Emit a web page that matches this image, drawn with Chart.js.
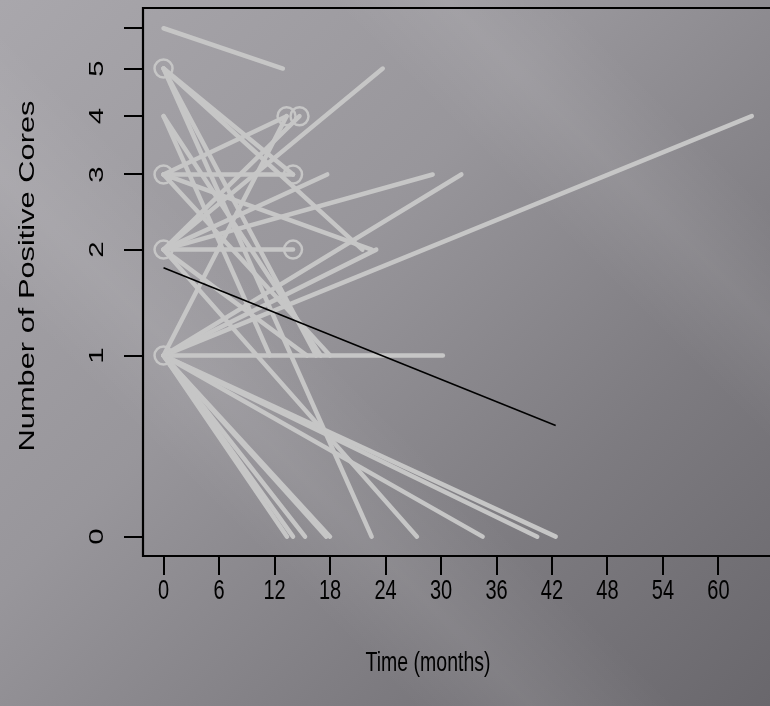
<!DOCTYPE html>
<html>
<head>
<meta charset="utf-8">
<script src="https://cdn.jsdelivr.net/npm/chart.js@4.4.1/dist/chart.umd.min.js"></script>
<style>
    html, body { margin: 0; padding: 0; width: 770px; height: 706px; overflow: hidden; }
    body {
        background:
            linear-gradient(45deg, rgba(255,255,255,0) 28%, rgba(255,255,255,0.08) 36%, rgba(255,255,255,0) 46%,
                                   rgba(255,255,255,0) 70%, rgba(255,255,255,0.07) 78%, rgba(255,255,255,0) 86%),
            linear-gradient(135deg, #a9a7ac 0%, #98969b 40%, #7d7b80 72%, #69676c 100%);
    }
    #wrap { position: relative; width: 770px; height: 706px; }
</style>
</head>
<body>
<div id="wrap"><canvas id="coresChart" width="770" height="706"></canvas></div>
<script>
// Ejes
const xTicks = [0, 6, 12, 18, 24, 30, 36, 42, 48, 54, 60];
const yTickCounts = [0, 1, 2, 3, 4, 5, 6];
const yTickLabels = ['0', '1', '2', '3', '4', '5', ''];

// Un paciente por posición: (mes inicial, cores) -> (mes final, cores)
const startMonths = [0, 0, 0, 0, 0, 0, 0, 0, 0, 0, 0, 0, 0, 0, 0, 0, 0, 0, 0, 0, 0, 0, 0, 0, 0, 0, 0, 0, 0, 0, 0];
const startCores  = [6, 3, 2, 3, 2, 2, 2, 2, 1, 1, 1, 1, 5, 4, 5, 2, 1, 1, 1, 1, 1, 1, 1, 1, 5, 5, 4, 3, 2, 1, 3];
const endMonths   = [12.9, 13.3, 14.7, 14.0, 14.0, 23.7, 17.7, 29.1, 32.2, 63.6, 30.2, 23.0, 21.5, 17.0, 22.5,
                     27.4, 34.5, 40.4, 42.4, 13.35, 14.0, 15.3, 17.6, 18.0, 14.0, 16.5, 11.5, 18.0, 15.5, 13.3, 22.5];
const endCores    = [5, 4, 4, 3, 2, 5, 3, 3, 3, 4, 1, 2, 2, 1, 0,
                     0, 0, 0, 0, 0, 0, 0, 0, 0, 3, 1, 1, 1, 1, 4, 2];

// Círculos marcados
const circleMonths = [0, 0, 0, 0, 13.3, 14.7, 14.0, 14.0];
const circleCores  = [5, 3, 2, 1, 4, 4, 3, 2];

// Tendencia ajustada
const fitMonths = [0, 42.4];
const fitCores  = [1.80, 0.53];

const tr = v => Math.log(v + 1);   // escala log(y + 1)
const STRETCH = 1.4;               // el gráfico original está estirado en vertical
const FONT = '"Liberation Sans", Arial, sans-serif';
const lineGray = '#c6c6c6';

function drawText(ctx, text, x, y, size, rotated) {
    ctx.save();
    ctx.translate(x, y);
    ctx.scale(1, STRETCH);
    if (rotated) ctx.rotate(-Math.PI / 2);
    ctx.font = `${size}px ${FONT}`;
    ctx.fillStyle = '#000';
    ctx.textAlign = 'center';
    ctx.textBaseline = 'middle';
    ctx.fillText(text, 0, 0);
    ctx.restore();
}

// Marco, marcas y textos al estilo de R
const rAxesPlugin = {
    id: 'rAxes',
    afterDatasetsDraw(chart) {
        const ctx = chart.ctx;
        const a = chart.chartArea;
        const xs = chart.scales.x;
        const ys = chart.scales.y;
        ctx.save();
        ctx.strokeStyle = '#000';
        ctx.lineWidth = 2.2;
        ctx.beginPath();
        ctx.moveTo(a.right + 2, a.top);
        ctx.lineTo(a.left, a.top);
        ctx.lineTo(a.left, a.bottom);
        ctx.lineTo(a.right + 2, a.bottom);
        ctx.stroke();

        ctx.lineWidth = 2;
        ctx.beginPath();
        xTicks.forEach(t => {
            const px = Math.round(xs.getPixelForValue(t));
            ctx.moveTo(px, a.bottom);
            ctx.lineTo(px, a.bottom + 19);
        });
        yTickCounts.forEach(c => {
            const py = Math.round(ys.getPixelForValue(tr(c)));
            ctx.moveTo(a.left, py);
            ctx.lineTo(a.left - 19, py);
        });
        ctx.stroke();
        ctx.restore();

        xTicks.forEach(t => drawText(ctx, String(t), xs.getPixelForValue(t), 591, 20, false));
        yTickCounts.forEach((c, i) => {
            if (yTickLabels[i]) drawText(ctx, yTickLabels[i], 97, ys.getPixelForValue(tr(c)), 21, true);
        });
        drawText(ctx, 'Time (months)', 428, 663, 19.5, false);
        drawText(ctx, 'Number of Positive Cores', 28, 276, 22, true);
    }
};

const datasets = [];

datasets.push({
    data: fitMonths.map((m, i) => ({ x: m, y: tr(fitCores[i]) })),
    showLine: true,
    borderColor: '#000',
    borderWidth: 1.6,
    pointRadius: 0
});

datasets.push({
    data: circleMonths.map((m, i) => ({ x: m, y: tr(circleCores[i]) })),
    showLine: false,
    pointRadius: 9,
    pointBorderWidth: 2.5,
    pointBorderColor: lineGray,
    pointBackgroundColor: 'rgba(0,0,0,0)'
});

startMonths.forEach((m, i) => {
    datasets.push({
        data: [{ x: m, y: tr(startCores[i]) }, { x: endMonths[i], y: tr(endCores[i]) }],
        showLine: true,
        borderColor: lineGray,
        borderWidth: 4.5,
        borderCapStyle: 'round',
        pointRadius: 0
    });
});

new Chart(document.getElementById('coresChart'), {
    type: 'scatter',
    data: { datasets: datasets },
    options: {
        responsive: false,
        animation: false,
        layout: { autoPadding: false, padding: { left: 143, top: 8, right: 0, bottom: 150 } },
        plugins: { legend: { display: false }, tooltip: { enabled: false } },
        scales: {
            x: { type: 'linear', display: false, min: -2.22, max: 65.57 },
            y: { type: 'linear', display: false, min: -0.074, max: 2.0234 }
        }
    },
    plugins: [rAxesPlugin]
});
</script>
</body>
</html>
